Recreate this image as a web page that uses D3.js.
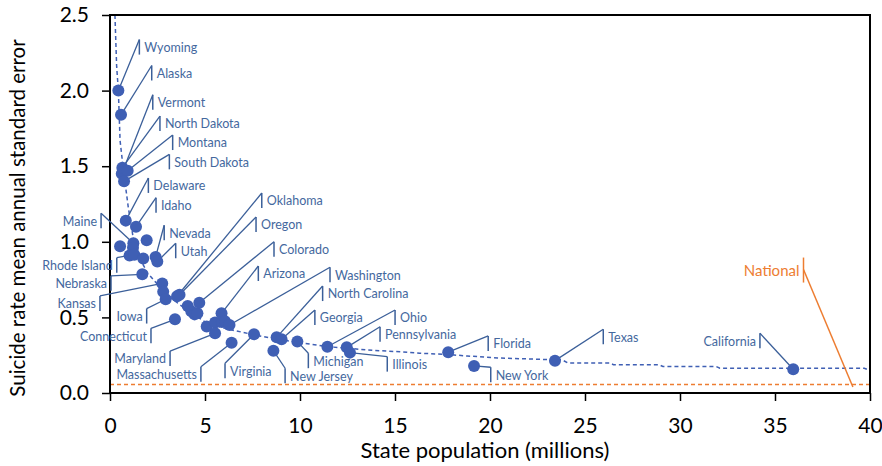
<!DOCTYPE html>
<html>
<head>
<meta charset="utf-8">
<script src="https://cdn.jsdelivr.net/npm/d3@7"></script>
<style>
  body { margin: 0; background: #fff; }
  text { font-family: Lato, "Open Sans", sans-serif; }
</style>
</head>
<body>
<div id="chartContainer"></div>
<script>
// state population (millions) vs suicide rate mean annual standard error
var states = ["Wyoming", "Alaska", "Vermont", "North Dakota", "Montana", "South Dakota",
  "Delaware", "Idaho", "New Mexico", "Maine", "District of Columbia", "New Hampshire",
  "Rhode Island", "Hawaii", "West Virginia", "Nevada", "Utah", "Nebraska", "Kansas",
  "Arkansas", "Iowa", "Oklahoma", "Oregon", "Connecticut", "Kentucky", "Louisiana",
  "Alabama", "South Carolina", "Colorado", "Minnesota", "Wisconsin", "Missouri",
  "Arizona", "Tennessee", "Washington", "Maryland", "Massachusetts", "Virginia",
  "New Jersey", "North Carolina", "Georgia", "Michigan", "Ohio", "Pennsylvania",
  "Illinois", "Florida", "New York", "Texas", "California"];

var population = [0.44, 0.58, 0.62, 0.65, 0.93, 0.74,
  0.83, 1.37, 1.93, 1.23, 0.53, 1.21,
  1.03, 1.28, 1.75, 2.40, 2.49, 1.70, 2.75,
  2.80, 2.93, 3.53, 3.66, 3.42, 4.09, 4.28,
  4.45, 4.60, 4.70, 5.09, 5.53, 5.89,
  5.87, 6.05, 6.29, 5.53, 6.40, 7.58,
  8.60, 8.77, 9.03, 9.86, 11.44, 12.46,
  12.63, 17.80, 19.16, 23.42, 35.96];

var stdError = [2.00, 1.84, 1.45, 1.49, 1.47, 1.40,
  1.14, 1.10, 1.01, 0.99, 0.97, 0.96,
  0.91, 0.915, 0.89, 0.90, 0.87, 0.785, 0.725,
  0.67, 0.62, 0.64, 0.65, 0.487, 0.575, 0.54,
  0.52, 0.527, 0.597, 0.44, 0.466, 0.47,
  0.527, 0.475, 0.45, 0.395, 0.333, 0.388,
  0.28, 0.368, 0.355, 0.34, 0.306, 0.302,
  0.267, 0.27, 0.179, 0.214, 0.157];

// expected standard error curve (blue dashed)
var curvePop = [0.26, 0.35, 0.44, 0.53, 0.7, 0.96, 1.23, 1.6, 2.0, 2.63, 3.3, 4.04,
  5.0, 5.4, 6.3, 7.4, 8.1, 9.0, 9.9, 10.6, 11.6, 12.6, 13.5, 15.3, 16.3, 17.7,
  18.8, 20.4, 22.3, 23.8, 24.1, 26.3, 26.5, 28.9, 29.1, 31.9, 32.1, 39.7, 40];
var curveSE = [2.5, 2.16, 2.0, 1.67, 1.48, 1.23, 1.02, 0.88, 0.79, 0.70, 0.62, 0.55,
  0.47, 0.45, 0.42, 0.39, 0.372, 0.352, 0.335, 0.322, 0.305, 0.295, 0.285, 0.272, 0.263, 0.255,
  0.245, 0.232, 0.224, 0.219, 0.198, 0.198, 0.187, 0.187, 0.175, 0.175, 0.164, 0.164, 0.148];

var nationalSE = 0.057;
var nationalLeaderEnd = [39.1, 0.04];

var xTicks = [0, 5, 10, 15, 20, 25, 30, 35, 40];
var yTicks = [0, 0.5, 1, 1.5, 2, 2.5];

var xTitle = "State population (millions)";
var yTitle = "Suicide rate mean annual standard error";

// label layout: offset (px) of the callout bar top from its dot, and side of the text
var callouts = [
  ["Wyoming", 21, -51, "r"],
  ["Alaska", 30.7, -49.3, "r"],
  ["Vermont", 31, -79, "r"],
  ["North Dakota", 37.6, -51.7, "r"],
  ["Montana", 45, -35.7, "r"],
  ["South Dakota", 45.3, -27, "r"],
  ["Delaware", 22.6, -42.7, "r"],
  ["Idaho", 20, -29, "r"],
  ["Nevada", 8.6, -31.7, "r"],
  ["Utah", 18.4, -18.2, "r"],
  ["Maine", -32.3, -30, "l"],
  ["Rhode Island", -12.8, 2.3, "l"],
  ["Nebraska", -31.3, 1.5, "l"],
  ["Kansas", -62.3, 12.5, "l"],
  ["Iowa", -19, 9.3, "l"],
  ["Connecticut", -24, 9, "l"],
  ["Maryland", -45, 17.8, "l"],
  ["Massachusetts", -30.7, 24, "l"],
  ["Virginia", -29, 29, "r"],
  ["New Jersey", 11.7, 17.6, "r"],
  ["Michigan", 11, 11.6, "r"],
  ["Illinois", 37.3, 4, "r"],
  ["Ohio", 67.7, -36.7, "r"],
  ["Pennsylvania", 33.3, -20.6, "r"],
  ["Georgia", 33.3, -29.3, "r"],
  ["North Carolina", 46, -51.3, "r"],
  ["Washington", 100.5, -57.7, "r"],
  ["Arizona", 36.8, -47.3, "r"],
  ["Colorado", 74.7, -61, "r"],
  ["Oregon", 76.5, -77.8, "r"],
  ["Oklahoma", 84.7, -103.2, "r"],
  ["Florida", 40, -16.3, "r"],
  ["New York", 16.7, 1.3, "r"],
  ["Texas", 48.3, -31.4, "r"],
  ["California", -33.3, -36, "l"]
];

var blue = "#3f5fb4",
    labelBlue = "#44689e",
    leaderBlue = "#3b5f99",
    orange = "#ed7d31";

var margin = {top: 15, right: 12, bottom: 73, left: 110},
    width = 882 - margin.left - margin.right,
    height = 466 - margin.top - margin.bottom;

var svg = d3.select("#chartContainer").append("svg")
  .attr("width", width + margin.left + margin.right)
  .attr("height", height + margin.top + margin.bottom)
  .append("g")
    .attr("transform", "translate(" + margin.left + " " + margin.top + ")");

var x = d3.scaleLinear().domain([0, 40]).range([0, width]);
var y = d3.scaleLinear().domain([0, 2.5]).range([height, 0]);

svg.append("clipPath").attr("id", "plotClip")
  .append("rect").attr("width", width).attr("height", height);

// national line
svg.append("line")
  .attr("x1", 0).attr("x2", width)
  .attr("y1", y(nationalSE)).attr("y2", y(nationalSE))
  .attr("stroke", orange).attr("stroke-width", 1.5)
  .attr("stroke-dasharray", "4 3");

// expected curve
var curve = curvePop.map(function(p, i){ return [p, curveSE[i]]; });
svg.append("path")
  .datum(curve)
  .attr("clip-path", "url(#plotClip)")
  .attr("fill", "none")
  .attr("stroke", blue)
  .attr("stroke-width", 1.5)
  .attr("stroke-dasharray", "4 3")
  .attr("d", d3.line().x(function(d){ return x(d[0]); }).y(function(d){ return y(d[1]); }));

// axes
var xAxis = d3.axisBottom(x).tickValues(xTicks).tickSize(8).tickSizeOuter(0).tickPadding(17);
var yAxis = d3.axisLeft(y).tickValues(yTicks).tickSize(8).tickSizeOuter(0).tickPadding(13)
  .tickFormat(d3.format(".1f"));

var xg = svg.append("g").attr("transform", "translate(0," + height + ")").call(xAxis);
var yg = svg.append("g").call(yAxis);

[xg, yg].forEach(function(g){
  g.select(".domain").remove();
  g.selectAll("line").attr("stroke", "#000").attr("stroke-width", 1.5);
  g.selectAll("text").attr("fill", "#000").style("font-size", "21px");
});

// plot frame
svg.append("rect")
  .attr("width", width).attr("height", height)
  .attr("fill", "none").attr("stroke", "#000").attr("stroke-width", 2);

// callouts
var callG = svg.append("g");
callouts.forEach(function(c){
  var i = states.indexOf(c[0]);
  var px = x(population[i]), py = y(stdError[i]);
  var bx = px + c[1], by = py + c[2];
  callG.append("line")
    .attr("x1", px).attr("y1", py).attr("x2", bx).attr("y2", by)
    .attr("stroke", leaderBlue).attr("stroke-width", 1.3);
  callG.append("line")
    .attr("x1", bx).attr("y1", by).attr("x2", bx).attr("y2", by + 15)
    .attr("stroke", leaderBlue).attr("stroke-width", 1.5);
  callG.append("text")
    .attr("x", c[3] == "r" ? bx + 5 : bx - 4)
    .attr("y", by + 8)
    .attr("dy", "0.35em")
    .attr("text-anchor", c[3] == "r" ? "start" : "end")
    .attr("fill", labelBlue)
    .style("font-size", "12.5px")
    .text(c[0]);
});

// national callout
var nx = x(nationalLeaderEnd[0]), ny = y(nationalLeaderEnd[1]);
var nbx = nx - 49.4, nby = ny - 129.4;
svg.append("line")
  .attr("x1", nx).attr("y1", ny).attr("x2", nbx).attr("y2", nby + 12)
  .attr("stroke", orange).attr("stroke-width", 1.5);
svg.append("line")
  .attr("x1", nbx).attr("y1", nby).attr("x2", nbx).attr("y2", nby + 25)
  .attr("stroke", orange).attr("stroke-width", 1.5);
svg.append("text")
  .attr("x", nbx - 4).attr("y", nby + 13).attr("dy", "0.35em")
  .attr("text-anchor", "end")
  .attr("fill", orange)
  .style("font-size", "15px")
  .text("National");

// points
svg.append("g").selectAll("circle")
  .data(states)
  .enter().append("circle")
    .attr("cx", function(d, i){ return x(population[i]); })
    .attr("cy", function(d, i){ return y(stdError[i]); })
    .attr("r", 6)
    .attr("fill", blue);

// axis titles
svg.append("text")
  .attr("x", width / 2 - 5)
  .attr("y", height + 65)
  .attr("text-anchor", "middle")
  .style("font-size", "22px")
  .text(xTitle);

svg.append("text")
  .attr("transform", "translate(" + (-92) + "," + (height / 2 + 14) + ") rotate(-90)")
  .attr("text-anchor", "middle")
  .attr("dy", "0.35em")
  .style("font-size", "20.5px")
  .text(yTitle);
</script>
</body>
</html>
